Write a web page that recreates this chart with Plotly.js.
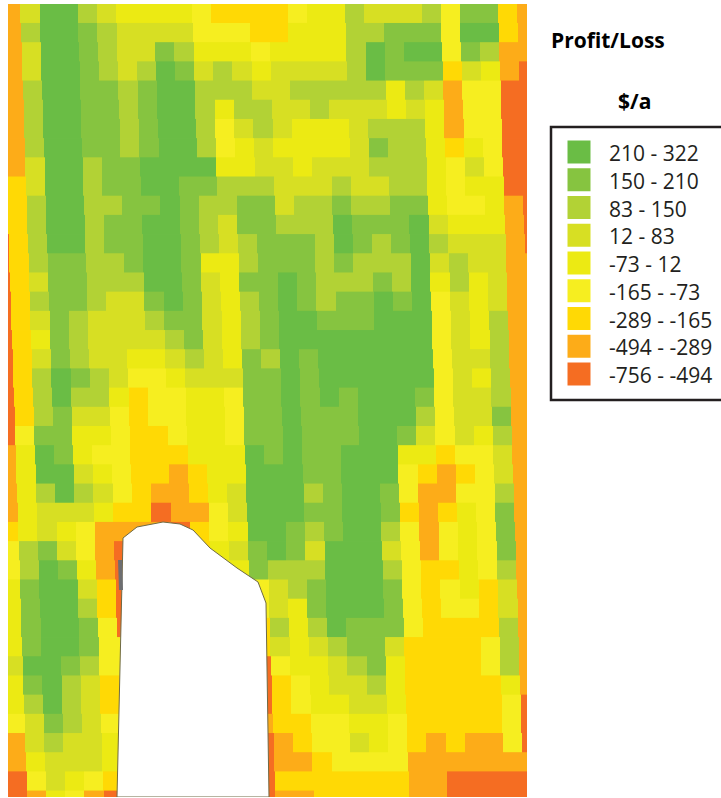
<!DOCTYPE html>
<html>
<head>
<meta charset="utf-8">
<script src="https://cdn.plot.ly/plotly-3.0.1.min.js"></script>
<style>html,body{margin:0;padding:0;background:#fff}#chart{width:721px;height:798px}</style>
</head>
<body>
<div id="chart"></div>
<script>
// Profit class per yield-map cell: 1 = best class ... 9 = worst class (index into classLabels)
// one string per row, top to bottom; first character is the partial cell on the left edge
const classRows = [
"8 8411345555 6777 7655344436 2278",
"8 8311234444 6667 7555332226 1178",
"8 8411234423 5556 5555312116 2388",
"8 8411234312 4345 4444312227 4589",
"8 8311223211 3334 4333335348 6699",
"8 8311223211 3533 4434445458 6699",
"8 8311223211 3643 4555433358 6699",
"8 8311223211 3654 5555423357 5699",
"8 8411322111 1554 4544433356 4699",
"8 7411322112 2333 4443443356 5599",
"8 7311332212 3322 4332332256 6589",
"9 7311322112 3422 3331222145 5589",
"9 7311322112 3432 2231232134 4489",
"9 7322332112 5532 2232333143 4488",
"9 7422333112 4522 1233323153 5488",
"9 7322344212 4532 1232212164 5488",
"9 7423444322 4532 1122211164 5388",
"9 7523444432 4532 1111111164 5388",
"9 7423445543 4523 1211111164 4388",
"9 7312346654 4422 1211111164 5388",
"9 7313357665 5622 1212111264 4388",
"9 7324467665 5622 1222111364 4288",
"9 6225567765 5622 1222112464 5388",
"8 5125667775 5512 1221115576 6488",
"8 5114567787 5511 1221116787 6488",
"8 5313467887 5411 1321126886 6388",
"8 5444577988 6411 1221127875 6288",
"7 5456888897 6511 2321136865 6288",
"6 3246895557 5421 2411146865 6288",
"6 3125895555 5523 3311136775 6388",
"5 2114795555 5664 3211126765 7488",
"5 2113795555 5564 5211126766 7488",
"5 2112695555 5573 5312226777 7388",
"5 2112665555 5574 5432247777 6388",
"4 1123665555 5596 5543257777 6388",
"5 2134775555 5597 6544357777 7588",
"5 3134775555 5597 6554457777 7699",
"6 4234665555 5587 7665567777 7699",
"8 4344555555 5598 7664567878 8699",
"8 5444555555 5598 8766668888 8888",
"9 6456775555 5597 7777778899 9999",
"9 8568995555 5598 8777778899 9999"
];
const classLabels = ["210 - 322","150 - 210","83 - 150","12 - 83","-73 - 12","-165 - -73","-289 - -165","-494 - -289","-756 - -494"];
const classColors = ["#6abd45","#86c440","#b2d235","#d7df23","#ecea13","#f6ee20","#ffd905","#fdac18","#f56d22"];
const classIndex = [1,2,3,4,5,6,7,8,9];
const titleText = "Profit/Loss";
const unitText = "$/a";
// excluded area outline, in map coordinates
const holeX = [123,128,137,163,180,193,210,237,258,266,269,117,122,123];
const holeY = [538,534,527,522,524,530,548,568,582,603,797,797,597,538];
const noDataX = [120,121];
const noDataY = [560,590];

// map geometry: harvester passes run slightly skewed
const cellW = 19.1, cellH = 19.19, originX = 1.3 - 19.1, originY = 3.8, skewPerRow = 0.63;
const colorscale = [];
classColors.forEach((c,i)=>{ colorscale.push([i/9,c]); colorscale.push([(i+1)/9,c]); });

const traces = classRows.map((row,r)=>({
  type:'heatmap',
  z:[Array.from(row.replace(/ /g,'')).map(Number)],
  x0: originX + cellW/2 + skewPerRow*r,
  dx: cellW,
  y:[originY + cellH*r, originY + cellH*(r+1) + 0.5],
  zmin:0.5, zmax:9.5,
  colorscale, showscale:false, hoverinfo:'skip', zsmooth:false, xaxis:'x', yaxis:'y'
}));
traces.push({type:'scatter',mode:'lines',x:holeX,y:holeY,fill:'toself',fillcolor:'#ffffff',
  line:{color:'#6f6a45',width:1},hoverinfo:'skip',showlegend:false,xaxis:'x',yaxis:'y'});
traces.push({type:'scatter',mode:'lines',x:noDataX,y:noDataY,line:{color:'#6d6e71',width:4},
  hoverinfo:'skip',showlegend:false,xaxis:'x',yaxis:'y'});

const swatchX = 579, swatchTop = 152, swatchStep = 27.75;
const rowY = classIndex.map((k,i)=>swatchTop + swatchStep*i);
traces.push({type:'scatter',mode:'markers',x:classIndex.map(()=>swatchX),y:rowY,
  marker:{symbol:'square',size:23,color:classColors,line:{width:0}},
  hoverinfo:'skip',showlegend:false,xaxis:'x2',yaxis:'y2'});

const font = {family:'"Open Sans", sans-serif',color:'#231f20'};
const annotations = classLabels.map((t,i)=>({xref:'x2',yref:'y2',x:607,y:rowY[i]+1,text:t,showarrow:false,
  xanchor:'left',yanchor:'middle',font:{...font,size:21}}));
annotations.push({xref:'x2',yref:'y2',x:549,y:40,text:'<b>'+titleText+'</b>',showarrow:false,xanchor:'left',yanchor:'middle',font:{...font,size:21,color:'#000'}});
annotations.push({xref:'x2',yref:'y2',x:634,y:101,text:'<b>'+unitText+'</b>',showarrow:false,xanchor:'center',yanchor:'middle',font:{...font,size:21,color:'#000'}});

const hidden = {visible:false,showgrid:false,zeroline:false,fixedrange:true};
const layout = {
  width:721,height:798,margin:{l:0,r:0,t:0,b:0},
  paper_bgcolor:'#fff',plot_bgcolor:'rgba(0,0,0,0)',showlegend:false,
  xaxis:{...hidden,domain:[8/721,527/721],range:[8,527],anchor:'y'},
  yaxis:{...hidden,domain:[1-797/798,1-4/798],range:[797,4],anchor:'x'},
  xaxis2:{...hidden,domain:[0,1],range:[0,721],anchor:'y2'},
  yaxis2:{...hidden,domain:[0,1],range:[798,0],anchor:'x2'},
  shapes:[{type:'rect',xref:'x2',yref:'y2',x0:551,x1:735,y0:127,y1:400,line:{color:'#231f20',width:2.5},fillcolor:'rgba(0,0,0,0)'}],
  annotations
};
Plotly.newPlot('chart',traces,layout,{staticPlot:true,displayModeBar:false});
</script>
</body>
</html>
